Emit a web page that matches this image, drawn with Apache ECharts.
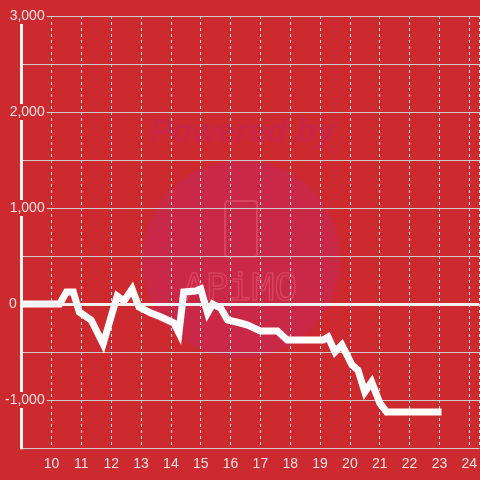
<!DOCTYPE html>
<html>
<head>
<meta charset="utf-8">
<script src="https://cdn.jsdelivr.net/npm/echarts@6/dist/echarts.min.js"></script>
<style>
  html, body { margin: 0; padding: 0; background: #cd2a2f; }
  #chart { width: 480px; height: 480px; }
</style>
</head>
<body>
<div id="chart"></div>
<script>
// hours of day (x) and values (y)
const times = [9, 10.27, 10.5, 10.73, 10.93, 11.33, 11.73, 12.2, 12.43, 12.7, 12.93, 13.33, 13.67, 14.1, 14.27,
  14.43, 14.83, 15.0, 15.23, 15.4, 15.67, 15.9, 16.33, 16.57, 17.0, 17.57, 17.9, 19.1, 19.27, 19.5, 19.73,
  20.07, 20.27, 20.5, 20.73, 21.0, 21.23, 23.07]
const values = [0, 0, 125, 125, -83, -167, -417, 83, 31, 156, -31, -94, -135, -198, -302,
  125, 135, 156, -94, 0, -42, -167, -198, -219, -281, -281, -375, -375, -344, -500, -427,
  -635, -688, -917, -812, -1031, -1125, -1125]
const xMin = 9
const xMax = 24 + 1 / 3
const yMin = -1500
const yMax = 3000
const yStep = 500
const yLabelStep = 1000

const bg = '#cd2a2f'
const chart = echarts.init(document.getElementById('chart'))

chart.setOption({
  backgroundColor: bg,
  animation: false,
  grid: { left: 20, right: 0, top: 16, bottom: 32 },
  graphic: {
    elements: [
      { type: 'circle', z: -10, shape: { cx: 241, cy: 259, r: 99 }, style: { fill: 'rgba(200, 40, 80, 0.75)' } },
      {
        type: 'text', z: -10, x: 242, y: 133,
        style: {
          text: 'Powered by', fill: 'rgba(200, 36, 78, 0.85)', align: 'center', verticalAlign: 'middle',
          font: 'italic bold 33px "Liberation Sans", sans-serif'
        }
      },
      {
        type: 'rect', z: -10, shape: { x: 225, y: 201, width: 32, height: 56, r: 3 },
        style: { fill: 'none', stroke: 'rgba(225, 85, 110, 0.6)', lineWidth: 2 }
      },
      {
        type: 'text', z: -10, x: 240, y: 290,
        style: {
          text: 'APiMO', fill: 'none', stroke: 'rgba(225, 85, 110, 0.6)', lineWidth: 1.5,
          align: 'center', verticalAlign: 'middle', font: '38px "DejaVu Sans Mono", monospace'
        }
      }
    ]
  },
  xAxis: {
    type: 'value',
    min: xMin,
    max: xMax,
    interval: 1,
    axisLine: { onZero: false, lineStyle: { color: '#cccccc', width: 1 } },
    axisTick: { show: false },
    axisLabel: {
      showMinLabel: false,
      showMaxLabel: false,
      margin: 9,
      fontSize: 14,
      color: '#f0e4e4',
      fontFamily: '"Liberation Sans", sans-serif'
    },
    splitLine: { show: true, lineStyle: { color: '#dddddd', width: 1, type: [3, 3] } }
  },
  yAxis: [
    {
      // grid lines only
      type: 'value',
      min: yMin,
      max: yMax,
      interval: yStep,
      z: 0,
      axisLine: { show: false },
      axisTick: { show: false },
      axisLabel: { show: false },
      splitLine: { lineStyle: { color: '#cccccc', width: 1 } }
    },
    {
      // axis line and labels, drawn over the grid lines
      type: 'value',
      min: yMin,
      max: yMax,
      interval: yStep,
      position: 'left',
      z: 1,
      axisLine: { show: true, lineStyle: { color: '#f2f2f2', width: 3 } },
      axisTick: { show: false },
      splitLine: { show: false },
      axisLabel: {
        margin: -25,
        formatter: function (v) {
          if (v % yLabelStep !== 0) return ''
          if (v === 0) return '{z|0}'
          return '{b|' + v.toLocaleString('en-US') + '}'
        },
        rich: {
          b: {
            fontSize: 14, color: '#f0e4e4', fontFamily: '"Liberation Sans", sans-serif',
            backgroundColor: bg, padding: [1, 2, 1, 2], lineHeight: 14
          },
          z: {
            fontSize: 14, color: '#f0e4e4', fontFamily: '"Liberation Sans", sans-serif',
            padding: [1, 30, 1, 0], lineHeight: 14
          }
        }
      }
    }
  ],
  series: [{
    type: 'line',
    z: 2,
    data: times.map((t, i) => [t, values[i]]),
    showSymbol: false,
    lineStyle: { color: '#ffffff', width: 7, join: 'miter', cap: 'butt' },
    markLine: {
      silent: true,
      symbol: 'none',
      label: { show: false },
      lineStyle: { color: '#f2f2f2', width: 3, type: 'solid' },
      data: [{ yAxis: 0 }]
    }
  }]
})
</script>
</body>
</html>
